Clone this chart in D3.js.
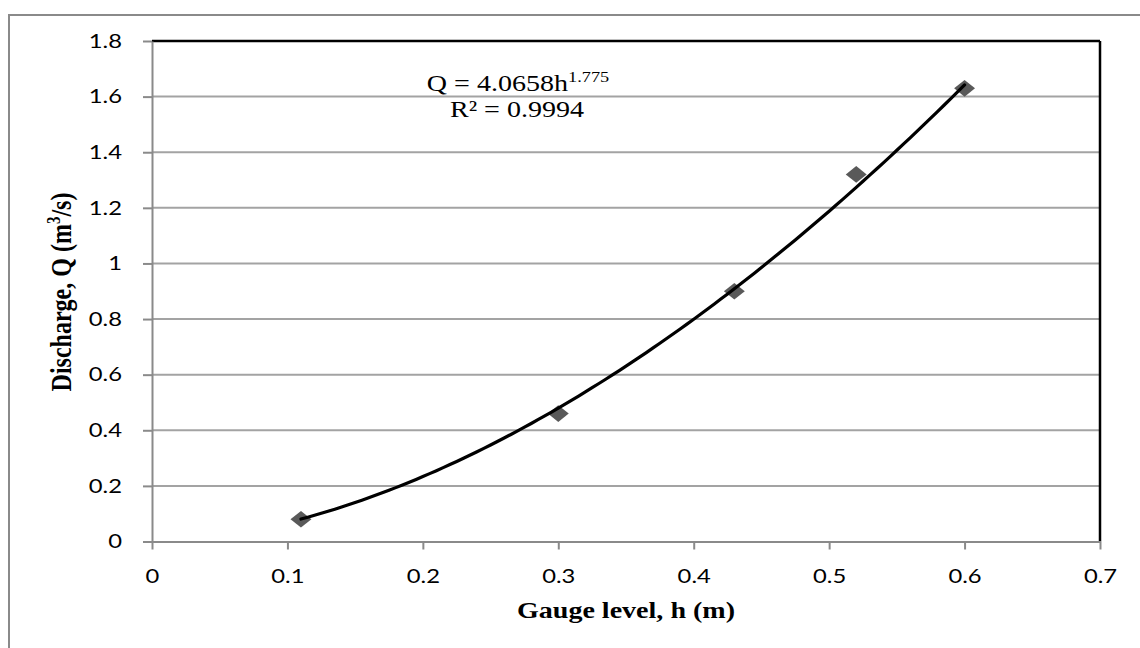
<!DOCTYPE html>
<html>
<head>
<meta charset="utf-8">
<script src="https://cdn.jsdelivr.net/npm/d3@7"></script>
<style>
  body { margin: 0; background: #fff; }
  svg { display: block; }
</style>
</head>
<body>
<div id="chart"></div>
<script>
// measured points
const gaugeLevel = [0.11, 0.30, 0.43, 0.52, 0.60];
const discharge = [0.08, 0.46, 0.90, 1.32, 1.63];
const xTickValues = [0, 0.1, 0.2, 0.3, 0.4, 0.5, 0.6, 0.7];
const yTickValues = [0, 0.2, 0.4, 0.6, 0.8, 1, 1.2, 1.4, 1.6, 1.8];
// power trendline as printed on the chart
const fitCoef = 4.0658;
const fitPower = 1.775;
const fitR2 = 0.9994;

const W = 1140, H = 648;
const margin = { top: 41, right: 40, bottom: 106.5, left: 152 };
const width = W - margin.left - margin.right;
const height = H - margin.top - margin.bottom;
const sx = 1.22; // the original picture is a bit wide, stretch text the same way
const serif = '"Liberation Serif", "Times New Roman", serif';
const sans = 'Lato, "Open Sans", sans-serif';

const svg = d3.select("#chart").append("svg")
  .attr("width", W)
  .attr("height", H);

svg.append("rect").attr("width", W).attr("height", H).attr("fill", "#fff");

// outer chart frame (runs off the right and bottom)
svg.append("rect")
  .attr("x", 9).attr("y", 15)
  .attr("width", W + 50).attr("height", H + 50)
  .attr("fill", "none")
  .attr("stroke", "#8a8a8a")
  .attr("stroke-width", 2);

const g = svg.append("g").attr("transform", `translate(${margin.left},${margin.top})`);

const x = d3.scaleLinear().domain([0, 0.7]).range([0, width]);
const y = d3.scaleLinear().domain([0, 1.8]).range([height, 0]);

// gridlines
g.append("g").selectAll("line")
  .data(yTickValues.filter(d => d > 0 && d < 1.8))
  .join("line")
  .attr("x1", 0).attr("x2", width)
  .attr("y1", d => y(d)).attr("y2", d => y(d))
  .attr("stroke", "#a3a3a3")
  .attr("stroke-width", 2);

// plot area border, top and right are black
g.append("line")
  .attr("x1", 0).attr("x2", width)
  .attr("y1", y(1.8)).attr("y2", y(1.8))
  .attr("stroke", "#000").attr("stroke-width", 2.5);
g.append("line")
  .attr("x1", width).attr("x2", width)
  .attr("y1", y(1.8)).attr("y2", height)
  .attr("stroke", "#000").attr("stroke-width", 2.5);

// axes
const yAxis = d3.axisLeft(y).tickValues(yTickValues).tickSize(9).tickSizeOuter(0).tickFormat(d => d);
const xAxis = d3.axisBottom(x).tickValues(xTickValues).tickSize(8).tickSizeOuter(0).tickFormat(d => d);

const gy = g.append("g").call(yAxis);
const gx = g.append("g").attr("transform", `translate(0,${height})`).call(xAxis);

[gx, gy].forEach(function(ax) {
  ax.select(".domain").attr("stroke", "#8a8a8a").attr("stroke-width", 2);
  ax.selectAll(".tick line").attr("stroke", "#8a8a8a").attr("stroke-width", 2);
  ax.selectAll(".tick text")
    .attr("fill", "#000")
    .style("font-family", sans)
    .style("font-size", "19.5px");
});
gy.selectAll(".tick text").attr("x", -30 / sx).attr("transform", `scale(${sx},1)`);
gx.selectAll(".tick text").attr("y", 27.5).attr("transform", `scale(${sx},1)`);

// markers under the trendline
const points = gaugeLevel.map((h, i) => ({ h: h, q: discharge[i] }));
g.append("g").selectAll("path")
  .data(points)
  .join("path")
  .attr("d", d3.symbol(d3.symbolSquare, 140))
  .attr("transform", d => `translate(${x(d.h)},${y(d.q)}) scale(1.25,1) rotate(45)`)
  .attr("fill", "#595959");

// trendline Q = a h^b from first to last gauge level
const trendH = d3.range(gaugeLevel[0], gaugeLevel[gaugeLevel.length - 1] + 0.0001, 0.005);
const trendLine = d3.line()
  .x(d => x(d))
  .y(d => y(fitCoef * Math.pow(d, fitPower)));
g.append("path")
  .datum(trendH)
  .attr("d", trendLine)
  .attr("fill", "none")
  .attr("stroke", "#000")
  .attr("stroke-width", 3.2)
  .attr("stroke-linecap", "round");

// equation label
const eq = svg.append("text")
  .attr("transform", `translate(518,91) scale(${sx},1)`)
  .attr("text-anchor", "middle")
  .style("font-family", serif)
  .style("font-size", "23px");
eq.append("tspan").text("Q = " + fitCoef + "h");
eq.append("tspan").attr("dy", -9).style("font-size", "15px").text(fitPower);

svg.append("text")
  .attr("transform", `translate(517,117) scale(${sx},1)`)
  .attr("text-anchor", "middle")
  .style("font-family", serif)
  .style("font-size", "23px")
  .text("R² = " + fitR2);

// axis titles
svg.append("text")
  .attr("transform", `translate(626,618) scale(${sx},1)`)
  .attr("text-anchor", "middle")
  .style("font-family", serif)
  .style("font-size", "23px")
  .style("font-weight", "bold")
  .text("Gauge level, h (m)");

const yTitle = svg.append("text")
  .attr("transform", `translate(71,292) rotate(-90) scale(1,${sx})`)
  .attr("text-anchor", "middle")
  .style("font-family", serif)
  .style("font-size", "24px")
  .style("font-weight", "bold");
yTitle.append("tspan").text("Discharge, Q (m");
yTitle.append("tspan").attr("dy", -9).style("font-size", "15px").text("3");
yTitle.append("tspan").attr("dy", 9).text("/s)");
</script>
</body>
</html>
